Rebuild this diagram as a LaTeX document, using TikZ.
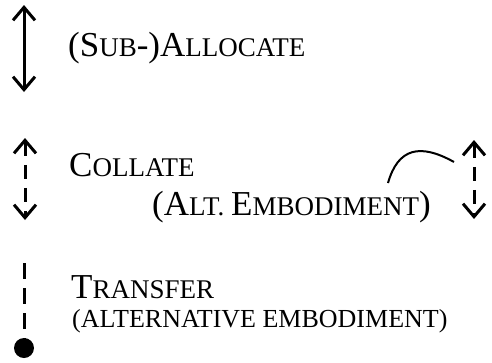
\documentclass[tikz,border=0pt]{standalone}
\usepackage{fontspec}
\setmainfont{Liberation Serif}
\usetikzlibrary{arrows.meta}
\newcommand{\capl}[1]{{\fontsize{35}{40}\selectfont #1}}
\tikzset{barb/.tip={Straight Barb[length=13pt, width=22pt, line width=3pt]}}
\begin{document}
\begin{tikzpicture}[x=1pt, y=-1pt,
    lbl/.style={anchor=base west, inner sep=0pt, font=\fontsize{27}{30}\selectfont},
    solidarrow/.style={line width=3pt, barb-barb},
    dasharrow/.style={line width=3pt, dash pattern=on 14pt off 9pt, barb-barb},
    dashline/.style={line width=3pt, dash pattern=on 16pt off 9pt},
    dot/.style={circle, fill, inner sep=0pt, minimum size=20pt}]
    \useasboundingbox (0, 0) rectangle (492, 362);
    % allocate
    \coordinate (al-top) at (24, 5);
    \coordinate (al-bot) at (24, 92);
    \draw[solidarrow] (al-top) -- (al-bot);
    \node[lbl] (al-txt) at (68, 56) {\capl{(S}UB\capl{-)A}LLOCATE};
    % collate
    \coordinate (co-top) at (25, 138);
    \coordinate (co-bot) at (25, 220);
    \draw[dasharrow] (co-top) -- (co-bot);
    \node[lbl] (co-txt) at (69, 176) {\capl{C}OLLATE};
    \node[lbl] (co-alt) at (152, 215) {\capl{(A}LT. \capl{E}MBODIMENT\capl{)}};
    \coordinate (alt-top) at (474, 140);
    \coordinate (alt-bot) at (474, 219);
    \draw[dasharrow] (alt-top) -- (alt-bot);
    \coordinate (bend-a) at (388, 183);
    \coordinate (bend-b) at (454, 162);
    \draw[line width=2pt] (bend-a) .. controls (398, 148) and (420, 143) .. (bend-b);
    % transfer
    \coordinate (tr-top) at (24, 263);
    \node[dot] (tr-end) at (24, 348) {};
    \draw[dashline] (tr-top) -- (tr-end.center);
    \node[lbl] (tr-txt) at (71, 298) {\capl{T}RANSFER};
    \node[lbl, font=\fontsize{26}{30}\selectfont] (tr-alt) at (72, 327) {(ALTERNATIVE EMBODIMENT)};
\end{tikzpicture}
\end{document}
